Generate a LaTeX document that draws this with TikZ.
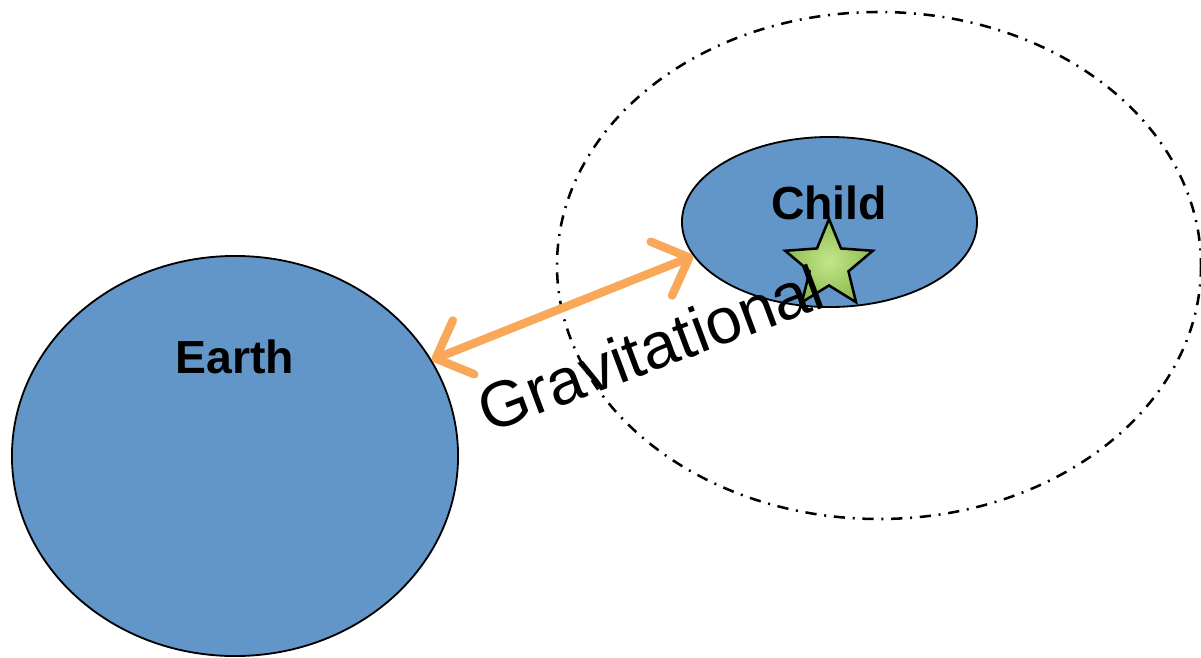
\documentclass[tikz,border=0pt]{standalone}
\usepackage{fontspec}
\setmainfont{Liberation Sans}
\usetikzlibrary{shapes.geometric, arrows.meta, positioning, calc}
\definecolor{cBody}{RGB}{98,150,201}
\definecolor{cPull}{RGB}{248,168,88}
\definecolor{cStar}{RGB}{140,188,78}
\definecolor{cStarLight}{RGB}{196,230,140}
\tikzset{
	body/.style   ={ellipse, draw=black, line width=1.3pt, fill=cBody, inner sep=0pt},
	bodyname/.style={font=\fontsize{33}{36}\selectfont\bfseries, text=black},
	orbit/.style  ={draw=black, line width=1.8pt, dash pattern=on 8pt off 5.5pt on 1.4pt off 5.5pt},
	pull/.style   ={{Straight Barb[length=0.75cm, width=1.45cm, round]}-{Straight Barb[length=0.75cm, width=1.45cm, round]}, line width=6pt, cPull, line cap=round},
	starmark/.style={star, star points=5, star point ratio=2.25, draw=black, line width=1.8pt, inner color=cStarLight, outer color=cStar, inner sep=0pt, minimum size=2.3cm},
}
\begin{document}
\begin{tikzpicture}[x=0.025cm, y=-0.025cm]
	\useasboundingbox (0,0) rectangle (1201,657);
	% orbit of the child
	\draw[orbit] (879,265.5) ellipse [x radius=322, y radius=253.5];
	\node[body, minimum width=11.15cm, minimum height=10cm] (earth) at (235,456) {};
	\node[body, minimum width=7.375cm, minimum height=4.25cm] (child) at (829.5,222) {};
	\node[bodyname] (earthname) at (235,357) {Earth};
	\node[bodyname] (childname) at (829,203) {Child};
	\draw[pull] (earth.26) -- (child.194);
	\node[starmark] (childstar) at (829,265) {};
	\node[font=\fontsize{46}{50}\selectfont, rotate=20.5] (force) at (650,348) {Gravitational};
\end{tikzpicture}
\end{document}
